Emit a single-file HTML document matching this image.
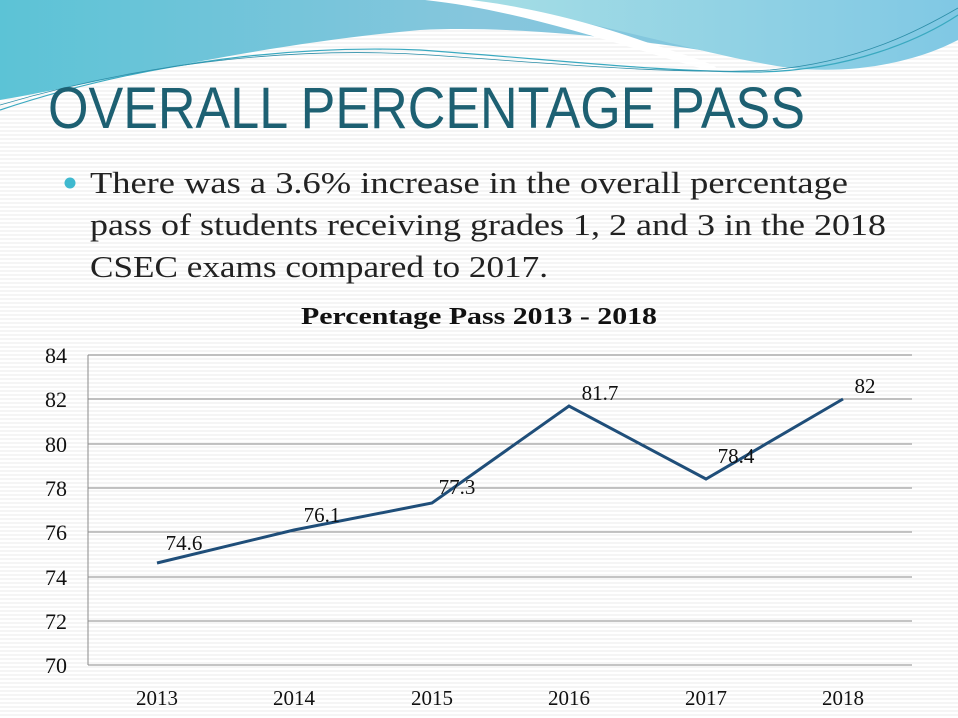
<!DOCTYPE html>
<html><head><meta charset="utf-8"><style>
html,body{margin:0;padding:0;}
body{width:958px;height:718px;overflow:hidden;position:relative;
background:repeating-linear-gradient(#fff 0,#fff 2px,#f5f5f5 2px,#f5f5f5 4px);}
svg{position:absolute;left:0;top:0;}
</style></head><body>
<svg width="958" height="718" viewBox="0 0 958 718" xmlns="http://www.w3.org/2000/svg">
<defs>
<linearGradient id="g1" x1="0" y1="0" x2="1" y2="0">
<stop offset="0" stop-color="#5cc3d6"/><stop offset="0.5" stop-color="#86c6dd"/><stop offset="1" stop-color="#7fc9e0"/>
</linearGradient>
<linearGradient id="g2" x1="0" y1="0" x2="1" y2="0">
<stop offset="0" stop-color="#a6dee5"/><stop offset="1" stop-color="#80c8e4"/>
</linearGradient>
</defs>
<path d="M0 0 H958 V40 C900 60 830 70 760 60 C650 40 520 25 420 30 C250 45 90 85 0 100 Z" fill="url(#g1)"/>
<path d="M460 0 H958 V40 C920 60 860 75 790 68 C700 55 600 20 460 0Z" fill="url(#g2)"/>
<path d="M425 0 C520 10 620 45 700 68 C740 72 700 60 640 40 C570 15 500 3 470 0Z" fill="#fff"/>
<path d="M0 110 C150 60 300 45 420 50 C560 60 660 72 760 72 C850 70 920 40 958 15" fill="none" stroke="#3aa9c0" stroke-width="1.2"/>
<path d="M0 105 C160 58 310 47 430 55 C560 64 680 75 770 70 C860 62 920 30 958 8" fill="none" stroke="#2d8ea8" stroke-width="0.8"/>
<text x="48" y="128" font-family="Liberation Sans, sans-serif" font-size="58" fill="#1d6072" textLength="757" lengthAdjust="spacingAndGlyphs">OVERALL PERCENTAGE PASS</text>
<circle cx="70" cy="183" r="5.5" fill="#3fb9cf"/>
<g font-family="Liberation Serif, serif" font-size="31" fill="#222">
<text x="90" y="193" textLength="758" lengthAdjust="spacingAndGlyphs">There was a 3.6% increase in the overall percentage</text>
<text x="90" y="235" textLength="796" lengthAdjust="spacingAndGlyphs">pass of students receiving grades 1, 2 and 3 in the 2018</text>
<text x="90" y="277" textLength="458" lengthAdjust="spacingAndGlyphs">CSEC exams compared to 2017.</text>
</g>
<text x="301" y="324" font-family="Liberation Serif, serif" font-weight="bold" font-size="24" fill="#111" textLength="356" lengthAdjust="spacingAndGlyphs">Percentage Pass 2013 - 2018</text>
<g stroke="#8a8a8a" stroke-width="1">
<line x1="88" y1="355" x2="912" y2="355"/><line x1="88" y1="399" x2="912" y2="399"/>
<line x1="88" y1="444" x2="912" y2="444"/><line x1="88" y1="488" x2="912" y2="488"/>
<line x1="88" y1="532" x2="912" y2="532"/><line x1="88" y1="577" x2="912" y2="577"/>
<line x1="88" y1="621" x2="912" y2="621"/><line x1="88" y1="665" x2="912" y2="665"/>
<line x1="88" y1="355" x2="88" y2="665"/>
</g>
<g font-family="Liberation Serif, serif" font-size="22" fill="#111" text-anchor="end">
<text x="67" y="363">84</text><text x="67" y="407">82</text><text x="67" y="452">80</text>
<text x="67" y="496">78</text><text x="67" y="540">76</text><text x="67" y="585">74</text>
<text x="67" y="629">72</text><text x="67" y="673">70</text>
</g>
<g font-family="Liberation Serif, serif" font-size="21" fill="#111" text-anchor="middle">
<text x="157" y="705">2013</text><text x="294" y="705">2014</text><text x="432" y="705">2015</text>
<text x="569" y="705">2016</text><text x="706" y="705">2017</text><text x="843" y="705">2018</text>
</g>
<polyline points="157,563 294,530 432,503 569,406 706,479 843,399" fill="none" stroke="#1f4e79" stroke-width="3"/>
<g font-family="Liberation Serif, serif" font-size="21" fill="#111" text-anchor="middle">
<text x="184" y="550">74.6</text><text x="322" y="522">76.1</text><text x="457" y="494">77.3</text>
<text x="600" y="400">81.7</text><text x="736" y="463">78.4</text><text x="865" y="393">82</text>
</g>
</svg>
</body></html>
